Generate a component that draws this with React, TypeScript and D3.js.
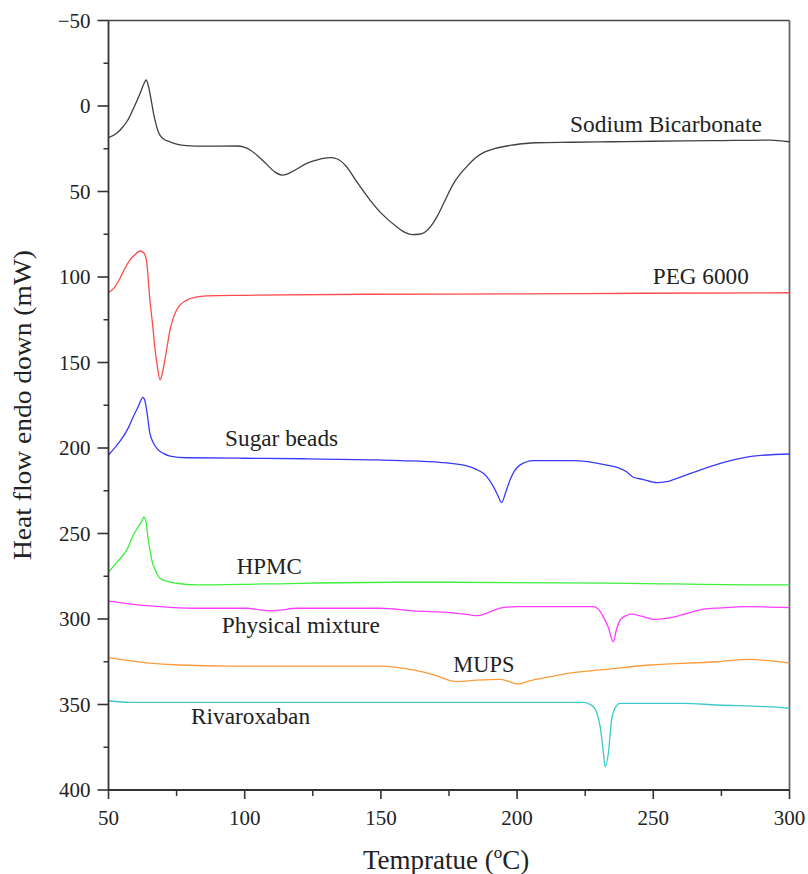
import React from "react";
import * as d3 from "d3";

// ---- Data (temperature °C, heat flow mW) ----
const sodiumBicarbonate: [number, number][] = [
  [50, 18.5], [53, 16], [55.4, 12], [57, 8.5], [59, 2], [61.5, -7], [63, -13], [63.8, -15.2], [64.6, -12],
  [65.5, -5], [66.5, 4], [67.5, 11], [68.5, 16], [70, 19], [72.6, 21], [75, 22.3], [78.7, 23.2], [85, 23.5],
  [97, 23.4], [100, 24.2], [102, 25.7], [105, 29.5], [108, 34], [111, 38.5], [113.6, 40.4], [116, 39.5],
  [119, 37], [122.8, 33.5], [127, 31.3], [131.3, 30.2], [134, 31], [137.4, 35.5], [141, 44], [146, 55],
  [150, 62.5], [155.8, 70.6], [159, 74], [161.5, 75.2], [164, 75], [166, 74], [168.5, 70], [170.5, 65],
  [173, 57], [176.6, 45.5], [179, 40], [181.5, 35.5], [185, 30], [188, 27], [192, 24.8], [198.6, 22.8],
  [207, 21.5], [220, 21.2], [235, 20.9], [250, 20.6], [272, 20.3], [293, 19.9], [300, 20.9],
];
const peg6000: [number, number][] = [
  [50, 109], [52, 106.5], [54.2, 100.8], [56, 95], [57.9, 90], [60, 86.5], [61.6, 84.8], [63, 86], [64, 91],
  [65.2, 113.5], [66.2, 128], [67.1, 142.7], [68, 153], [68.9, 160.2], [69.8, 156], [70.7, 148.5], [72.6, 131],
  [75, 119.3], [78.7, 113.5], [82, 111.8], [86, 111], [100, 110.7], [145, 110.1], [200, 109.9], [246, 109.5],
  [300, 109.2],
];
const sugarBeads: [number, number][] = [
  [50, 204.1], [52.5, 199.5], [55.4, 193.4], [57.5, 187.5], [59.1, 181.7], [61, 175.5], [62.6, 170.4],
  [63.4, 172.5], [64, 177.8], [65.2, 191.4], [66.3, 196.5], [67.7, 200.2], [70, 203], [72.6, 204.7],
  [78.7, 205.7], [100, 206], [121.5, 206.3], [148.5, 207], [157.2, 207.4], [171.7, 208.4], [181.5, 210.5],
  [185, 212.5], [187.6, 214.8], [189.5, 218], [191.3, 222.6], [193, 228], [194.3, 232], [195.8, 226],
  [197.4, 218.7], [199, 213.5], [201, 210], [206, 207.4], [220.6, 207.4], [232.9, 210], [237, 211.5],
  [240.2, 213.9], [242.7, 217.1], [246, 218.3], [251.3, 220.3], [254.9, 219.7], [260, 217], [267.1, 212.9],
  [279.4, 207], [286.7, 204.7], [300, 203.5],
];
const hpmc: [number, number][] = [
  [50, 272.5], [53, 267], [56.7, 259.6], [59.1, 250.9], [61, 246], [62.3, 242.5], [63, 240.5], [63.8, 243.5],
  [64.6, 253.8], [65.3, 260], [65.9, 265.5], [67.2, 271.5], [68.9, 276.2], [71.5, 278], [75, 279.1],
  [82.4, 280.1], [106.8, 279.5], [154.5, 278.5], [175.5, 278.5], [233.5, 279], [292.8, 280.1], [300, 280.1],
];
const physicalMixture: [number, number][] = [
  [50, 289.5], [64, 292.2], [82.4, 293.7], [100.7, 293.7], [105, 294.5], [109.3, 295.3], [113, 294.8],
  [119.1, 293.7], [149.7, 293.7], [161.9, 295.3], [175.5, 296.3], [182, 297.5], [185.8, 298], [189, 296.5],
  [193.7, 293.7], [199.9, 292.8], [228, 292.8], [230, 294.5], [231.6, 298.6], [233.5, 305], [235.3, 313.3],
  [236.5, 306], [237.8, 300.6], [240, 298], [242.1, 297.1], [246, 298.5], [250, 300.2], [254.9, 299.6],
  [260, 297.8], [267.1, 294.6], [275, 293.5], [285.5, 292.8], [300, 293.4],
];
const mups: [number, number][] = [
  [50, 322.6], [64, 325.6], [76.2, 326.9], [94.6, 327.5], [149.7, 327.5], [161.9, 329.8], [170, 333],
  [175.5, 336], [177.8, 336.6], [185, 335.8], [193.7, 335.3], [197, 336.5], [199.9, 338], [205, 336],
  [212.1, 333.7], [220, 331.5], [230.5, 329.8], [248.8, 326.9], [273.3, 325], [285.5, 323.6], [292, 324.3],
  [300, 325.6],
];
const rivaroxaban: [number, number][] = [
  [50, 347.8], [57.9, 348.7], [224.3, 348.7], [228, 351.3], [229.5, 356], [230.5, 363], [231.7, 378.5],
  [232.3, 386.4], [233.5, 378.5], [234.7, 359], [236, 352], [237.8, 349.3], [261, 349.3], [273.3, 350.3],
  [291.6, 351.3], [300, 352.2],
];

const seriesNames = ["Sodium Bicarbonate", "PEG 6000", "Sugar beads", "HPMC", "Physical mixture", "MUPS", "Rivaroxaban"];
const seriesData = [sodiumBicarbonate, peg6000, sugarBeads, hpmc, physicalMixture, mups, rivaroxaban];
const seriesColors = ["#404040", "#ff4a4a", "#3a3aff", "#3cf03c", "#ff3cff", "#ff9a3c", "#3cc8cc"];
// label anchor (temperature, heat flow at baseline) for each series label
const labelX = [219.4, 249.8, 92.8, 97.1, 91.6, 176.6, 80.3];
const labelY = [15.0, 104.3, 198.8, 273.7, 308, 330.8, 361.4];

const xTicks = [50, 100, 150, 200, 250, 300];
const xMinor = [75, 125, 175, 225, 275];
const yTicks = [-50, 0, 50, 100, 150, 200, 250, 300, 350, 400];
const yMinor = [-25, 25, 75, 125, 175, 225, 275, 325, 375];

const W = 808;
const H = 874;
const FONT = "'Liberation Serif', 'Times New Roman', serif";

export default function App() {
  const x = d3.scaleLinear().domain([50, 300]).range([108.5, 789.5]);
  const y = d3.scaleLinear().domain([-50, 400]).range([20.5, 790]);
  const line = d3
    .line<[number, number]>()
    .x((d) => x(d[0]))
    .y((d) => y(d[1]))
    .curve(d3.curveMonotoneX);

  const fmt = (v: number) => (v < 0 ? "\u2212" + Math.abs(v) : String(v));
  const labelWidths = [192, 96, 113, 65, 158, 61, 119];

  return (
    <svg width={W} height={H} style={{ position: "absolute", left: 0, top: 0, background: "#fff" }} fontFamily={FONT}>
      {/* frame top/right */}
      <line x1={x(50)} x2={x(300)} y1={y(-50)} y2={y(-50)} stroke="#444" strokeWidth={1.6} />
      <line x1={x(300)} x2={x(300)} y1={y(-50)} y2={y(400)} stroke="#666" strokeWidth={1.8} />

      {/* curves */}
      {seriesData.map((d, i) => (
        <path key={i} d={line(d) || ""} fill="none" stroke={seriesColors[i]} strokeWidth={1.3} />
      ))}

      {/* axes */}
      <line x1={x(50)} x2={x(50)} y1={y(-50)} y2={y(400)} stroke="#333" strokeWidth={1.8} />
      <line x1={x(50)} x2={x(300)} y1={y(400)} y2={y(400)} stroke="#333" strokeWidth={1.8} />

      {yTicks.map((t) => (
        <g key={"y" + t}>
          <line x1={x(50) - 11} x2={x(50)} y1={y(t)} y2={y(t)} stroke="#333" strokeWidth={1.6} />
          <text x={x(50) - 18} y={y(t)} dy="0.35em" textAnchor="end" fontSize={21} fill="#222">
            {fmt(t)}
          </text>
        </g>
      ))}
      {yMinor.map((t) => (
        <line key={"ym" + t} x1={x(50) - 5} x2={x(50)} y1={y(t)} y2={y(t)} stroke="#333" strokeWidth={1.5} />
      ))}
      {xTicks.map((t) => (
        <g key={"x" + t}>
          <line x1={x(t)} x2={x(t)} y1={y(400)} y2={y(400) + 9} stroke="#333" strokeWidth={1.6} />
          <text x={x(t)} y={y(400) + 35} textAnchor="middle" fontSize={21} fill="#222">
            {t}
          </text>
        </g>
      ))}
      {xMinor.map((t) => (
        <line key={"xm" + t} x1={x(t)} x2={x(t)} y1={y(400)} y2={y(400) + 6} stroke="#333" strokeWidth={1.5} />
      ))}

      {/* series labels */}
      {seriesNames.map((n, i) => (
        <text
          key={"l" + i}
          x={x(labelX[i])}
          y={y(labelY[i])}
          fontSize={23}
          fill="#222"
          textLength={labelWidths[i]}
          lengthAdjust="spacingAndGlyphs"
        >
          {n}
        </text>
      ))}

      {/* axis titles */}
      <text
        transform={`translate(31, 405) rotate(-90)`}
        textAnchor="middle"
        fontSize={26}
        fill="#222"
        textLength={310}
        lengthAdjust="spacingAndGlyphs"
      >
        Heat flow endo down (mW)
      </text>
      <text x={363} y={869} fontSize={27} fill="#222">
        Tempratue (<tspan fontSize={17} dy={-11}>o</tspan>
        <tspan dy={11}>C)</tspan>
      </text>
    </svg>
  );
}
